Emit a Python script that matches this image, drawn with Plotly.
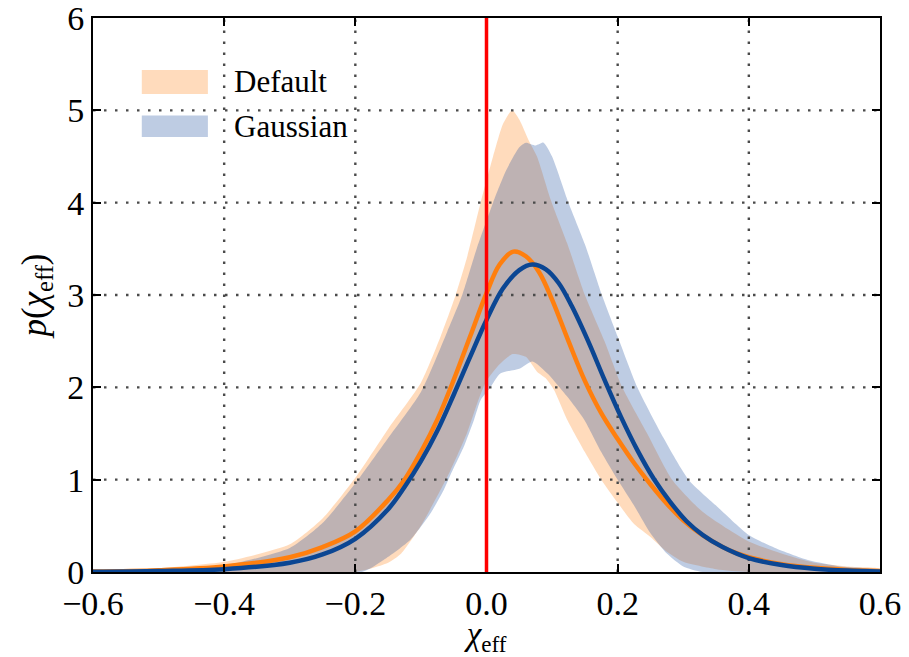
import plotly.graph_objects as go

# --- data ------------------------------------------------------------------
x_default_median = [-0.6, -0.5, -0.4, -0.3, -0.25, -0.2, -0.15, -0.125, -0.1, -0.075, -0.05,
                    -0.025, 0.0, 0.02, 0.041, 0.06, 0.08, 0.1, 0.125, 0.15, 0.175, 0.2,
                    0.225, 0.25, 0.275, 0.3, 0.325, 0.35, 0.375, 0.4, 0.45, 0.5, 0.55, 0.6]
y_default_median = [0.005, 0.02, 0.06, 0.16, 0.27, 0.44, 0.78, 1.0, 1.3, 1.65, 2.08,
                    2.55, 3.02, 3.33, 3.47, 3.42, 3.25, 2.95, 2.5, 2.07, 1.72, 1.44,
                    1.18, 0.95, 0.74, 0.56, 0.42, 0.31, 0.22, 0.16, 0.085, 0.045, 0.022, 0.01]

x_gauss_median = [-0.6, -0.5, -0.4, -0.3, -0.25, -0.2, -0.15, -0.125, -0.1, -0.075, -0.05,
                  -0.025, 0.0, 0.025, 0.05, 0.07, 0.09, 0.11, 0.13, 0.155, 0.18, 0.205,
                  0.23, 0.255, 0.28, 0.305, 0.33, 0.36, 0.4, 0.45, 0.5, 0.55, 0.6]
y_gauss_median = [0.002, 0.01, 0.03, 0.1, 0.19, 0.36, 0.68, 0.92, 1.2, 1.53, 1.92,
                  2.33, 2.73, 3.07, 3.27, 3.33, 3.28, 3.13, 2.88, 2.5, 2.08, 1.68,
                  1.32, 1.01, 0.76, 0.55, 0.4, 0.27, 0.15, 0.075, 0.035, 0.015, 0.006]

x_default_upper = [-0.6, -0.5, -0.4, -0.3, -0.25, -0.2, -0.15, -0.1, -0.07, -0.047, -0.03,
                   -0.009, 0.01, 0.025, 0.039, 0.05, 0.064, 0.077, 0.098, 0.123, 0.15, 0.18,
                   0.207, 0.245, 0.283, 0.33, 0.4, 0.45, 0.5, 0.55, 0.6]
y_default_upper = [0.005, 0.04, 0.11, 0.3, 0.58, 1.02, 1.55, 2.05, 2.55, 3.0, 3.4,
                   4.0, 4.5, 4.85, 5.0, 4.9, 4.68, 4.5, 4.03, 3.56, 3.0, 2.5,
                   2.0, 1.5, 1.0, 0.65, 0.33, 0.2, 0.1, 0.06, 0.035]

x_default_lower = [-0.6, -0.2, -0.15, -0.13, -0.1, -0.07, -0.055, -0.03, -0.014, 0.0, 0.02,
                   0.04, 0.06, 0.077, 0.09, 0.103, 0.123, 0.15, 0.175, 0.2, 0.225, 0.25,
                   0.275, 0.3, 0.35, 0.4, 0.6]
y_default_lower = [0.0, 0.0, 0.1, 0.2, 0.5, 0.89, 1.1, 1.5, 1.83, 2.07, 2.25,
                   2.36, 2.33, 2.17, 2.1, 1.97, 1.65, 1.3, 1.0, 0.75, 0.52, 0.38,
                   0.22, 0.11, 0.03, 0.0, 0.0]

x_gauss_upper = [-0.6, -0.5, -0.4, -0.3, -0.25, -0.2, -0.15, -0.1, -0.06, -0.037, -0.015,
                 0.01, 0.03, 0.05, 0.06, 0.075, 0.087, 0.1, 0.125, 0.15, 0.176, 0.2,
                 0.23, 0.27, 0.308, 0.35, 0.4, 0.44, 0.49, 0.54, 0.6]
y_gauss_upper = [0.002, 0.02, 0.07, 0.26, 0.53, 0.96, 1.45, 1.95, 2.6, 3.0, 3.5,
                 4.0, 4.35, 4.6, 4.65, 4.62, 4.65, 4.5, 4.0, 3.55, 3.0, 2.55,
                 2.0, 1.45, 1.0, 0.72, 0.4, 0.26, 0.13, 0.06, 0.025]

x_gauss_lower = [-0.6, -0.19, -0.157, -0.116, -0.085, -0.065, -0.055, -0.035, -0.019, -0.009,
                 0.006, 0.021, 0.05, 0.07, 0.093, 0.123, 0.149, 0.175, 0.2, 0.225, 0.25,
                 0.275, 0.3, 0.33, 0.6]
y_gauss_lower = [0.0, 0.0, 0.13, 0.35, 0.64, 0.89, 1.05, 1.35, 1.65, 1.86,
                 2.0, 2.15, 2.2, 2.28, 2.15, 1.9, 1.65, 1.3, 1.0, 0.72, 0.42,
                 0.2, 0.06, 0.0, 0.0]

zero_line_x = 0.0
x_range = [-0.6, 0.6]
y_range = [0, 6]
x_ticks = [-0.6, -0.4, -0.2, 0.0, 0.2, 0.4, 0.6]
x_ticktext = ["\u22120.6", "\u22120.4", "\u22120.2", "0.0", "0.2", "0.4", "0.6"]
y_ticks = [0, 1, 2, 3, 4, 5, 6]
series_names = ["Default", "Gaussian"]

FONT = "Liberation Serif, DejaVu Serif, serif"
ORANGE = "#ff7f0e"
BLUE = "#0b4693"
ORANGE_FILL = "rgba(255,127,14,0.28)"
BLUE_FILL = "rgba(31,80,160,0.29)"
GRID = "#4a4a4a"

fig = go.Figure()

# credible bands as closed polygons: upper edge forward, lower edge back
for xu, yu, xl, yl, fill in [
    (x_default_upper, y_default_upper, x_default_lower, y_default_lower, ORANGE_FILL),
    (x_gauss_upper, y_gauss_upper, x_gauss_lower, y_gauss_lower, BLUE_FILL),
]:
    fig.add_scatter(
        x=list(xu) + list(xl[::-1]),
        y=list(yu) + list(yl[::-1]),
        mode="lines",
        fill="toself",
        fillcolor=fill,
        line=dict(width=0, shape="spline", smoothing=0.6),
        hoverinfo="skip",
        showlegend=False,
    )

# dotted grid, drawn above the bands but below the median curves
gx, gy = [], []
for v in x_ticks[1:-1]:
    gx += [v, v, None]
    gy += [y_range[0], y_range[1], None]
for v in y_ticks[1:-1]:
    gx += [x_range[0], x_range[1], None]
    gy += [v, v, None]
fig.add_scatter(x=gx, y=gy, mode="lines", line=dict(color=GRID, width=2.4, dash="2.5px,8.5px"),
                hoverinfo="skip", showlegend=False)

fig.add_scatter(x=x_default_median, y=y_default_median, mode="lines",
                line=dict(color=ORANGE, width=4.5, shape="spline", smoothing=1.0),
                showlegend=False)
fig.add_scatter(x=x_gauss_median, y=y_gauss_median, mode="lines",
                line=dict(color=BLUE, width=4.5, shape="spline", smoothing=1.0),
                showlegend=False)

fig.add_vline(x=zero_line_x, line_color="#ff0000", line_width=3.5)

# legend patches drawn by hand so they match the wide matplotlib handles
for (name, fill, y0, y1) in [
    (series_names[0], ORANGE_FILL, 0.863, 0.906),
    (series_names[1], BLUE_FILL, 0.785, 0.824),
]:
    fig.add_shape(type="rect", xref="paper", yref="paper", x0=0.062, x1=0.146,
                  y0=y0, y1=y1, fillcolor=fill, line_width=0, layer="above")
    fig.add_annotation(xref="paper", yref="paper", x=0.176, y=(y0 + y1) / 2,
                       text=name, showarrow=False, xanchor="left", yanchor="middle",
                       font=dict(family=FONT, size=31, color="black"))

axis_common = dict(
    showline=True, linecolor="black", linewidth=2, mirror="ticks",
    ticks="inside", ticklen=8, tickwidth=2, tickcolor="black",
    showgrid=False, zeroline=False, automargin=False,
    ticklabeloverflow="allow",
    tickfont=dict(family=FONT, size=34, color="black"),
)
fig.update_xaxes(range=x_range, tickvals=x_ticks, ticktext=x_ticktext,
                 title=dict(text="<i>\u03c7</i><sub>eff</sub>",
                            font=dict(family=FONT, size=33, color="black"), standoff=2),
                 **axis_common)
fig.update_yaxes(range=y_range, tickvals=y_ticks,
                 title=dict(text="<i>p</i>(<i>\u03c7</i><sub>eff</sub>)",
                            font=dict(family=FONT, size=35, color="black"), standoff=10),
                 **axis_common)

# the page adds an 8px body margin, so the figure is sized and offset to land
# the plot box where the reference has it inside the 909x657 window
fig.update_layout(
    width=901, height=649,
    margin=dict(l=85, r=29, t=10, b=85),
    plot_bgcolor="white", paper_bgcolor="white",
    font=dict(family=FONT, color="black"),
    showlegend=False,
)

fig.write_html("out.html")
